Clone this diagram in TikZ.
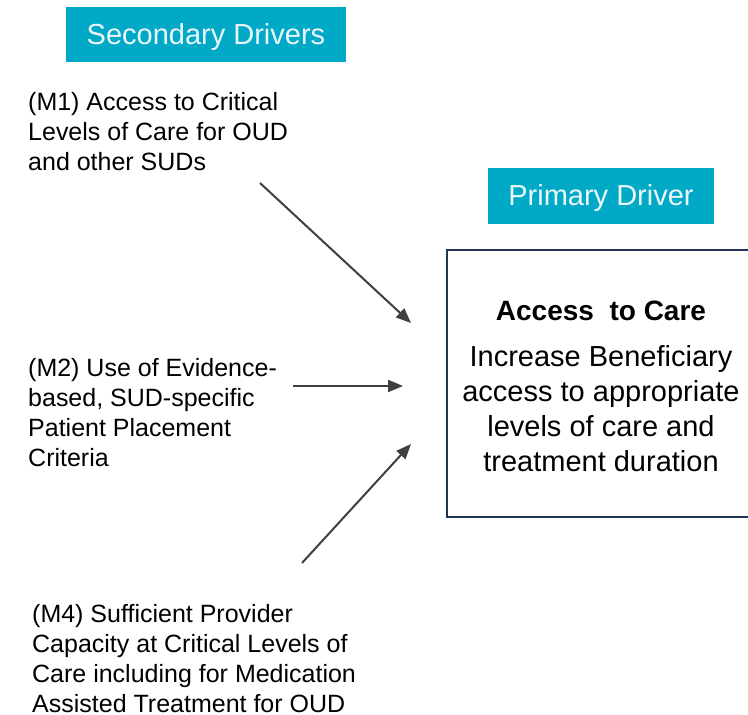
\documentclass[tikz,border=0pt]{standalone}
\usepackage{fontspec}
\setmainfont{Liberation Sans}
\usetikzlibrary{arrows.meta}
\definecolor{teal1}{RGB}{0,169,198}
\definecolor{navy1}{RGB}{32,52,88}
\definecolor{arrowgray}{RGB}{64,64,64}
\definecolor{hdrtext}{RGB}{236,246,250}
\tikzset{
  hdr/.style={fill=teal1, draw=none, text=hdrtext, inner sep=0pt, text height=20pt, text depth=0pt, font=\fontsize{29}{34}\selectfont},
  leftlabel/.style={anchor=base west, align=left, inner sep=0pt, text=black, font=\fontsize{25}{30}\selectfont},
  mainbox/.style={draw=navy1, line width=1.8pt, fill=white, minimum width=308pt, minimum height=267pt, inner sep=0pt},
  boxtext/.style={anchor=base, align=center, inner sep=0pt, font=\fontsize{29}{35}\selectfont},
  conn/.style={draw=arrowgray, line width=2pt, -{Triangle[length=15pt,width=12pt]}}
}
\begin{document}
\begin{tikzpicture}[x=1pt,y=-1pt]
\useasboundingbox (0,0) rectangle (748,715);
\clip (0,0) rectangle (748,715);
\fill[white] (0,0) rectangle (748,715);

\node[hdr, minimum width=280pt, minimum height=55pt] (sec) at (206,34.5) {Secondary Drivers};
\node[hdr, minimum width=226pt, minimum height=56pt] (prim) at (601,195.5) {Primary Driver};

\node[mainbox] (main) at (601,383.5) {};
\node[boxtext, font=\bfseries\fontsize{28}{34}\selectfont] (title) at (601,320.5) {Access\ \ to Care};
\node[boxtext] (desc) at (601,471) {Increase Beneficiary\\access to appropriate\\levels of care and\\treatment duration};

\node[leftlabel] (m1) at (28,170.5) {(M1) Access to Critical\\Levels of Care for OUD\\and other SUDs};
\node[leftlabel] (m2) at (28,466) {(M2) Use of Evidence-\\based, SUD-specific\\Patient Placement\\Criteria};
\node[leftlabel] (m4) at (32,712) {(M4) Sufficient Provider\\Capacity at Critical Levels of\\Care including for Medication\\Assisted Treatment for OUD};

\coordinate (a1s) at (260,183);
\coordinate (a1e) at (411,323);
\coordinate (a2s) at (293,386);
\coordinate (a2e) at (403,386);
\coordinate (a3s) at (302,563);
\coordinate (a3e) at (411,444);
\draw[conn] (a1s) -- (a1e);
\draw[conn] (a2s) -- (a2e);
\draw[conn] (a3s) -- (a3e);
\end{tikzpicture}
\end{document}
